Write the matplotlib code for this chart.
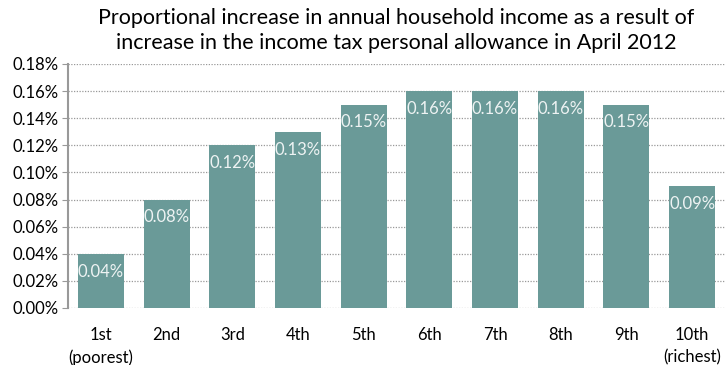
import matplotlib.pyplot as plt
from matplotlib.ticker import FuncFormatter, MultipleLocator

deciles = ["1st\n(poorest)", "2nd", "3rd", "4th", "5th", "6th", "7th", "8th", "9th", "10th\n(richest)"]
increase_pct = [0.04, 0.08, 0.12, 0.13, 0.15, 0.16, 0.16, 0.16, 0.15, 0.09]

bar_color = "#6a9a98"
plt.rcParams['font.family'] = ['Lato', 'DejaVu Sans']

fig = plt.figure(figsize=(7.27, 3.65), dpi=100)
ax = fig.add_axes([68 / 727, 1 - 308 / 365, (725 - 68) / 727, (308 - 64) / 365])

x = range(len(deciles))
bars = ax.bar(x, increase_pct, width=0.7, color=bar_color, zorder=3)
for b, v in zip(bars, increase_pct):
    ax.text(b.get_x() + b.get_width() / 2, v - 0.0072, "%.2f%%" % v,
            ha='center', va='top', color='#eef3f3', fontsize=12, zorder=4)

ax.set_xlim(-0.5, len(deciles) - 0.5)
ax.set_ylim(0, 0.18)
ax.yaxis.set_major_locator(MultipleLocator(0.02))
ax.yaxis.set_major_formatter(FuncFormatter(lambda v, p: "%.2f%%" % v))
ax.set_xticks(list(x))
ax.set_xticklabels(deciles, fontsize=12, linespacing=1.45)
ax.tick_params(axis='x', length=0, pad=14)
ax.tick_params(axis='y', length=4, color='#999999', labelsize=12, pad=3)

ax.grid(axis='y', linestyle=(0, (1, 1.2)), color='#999999', linewidth=0.9, zorder=0)
for side in ['top', 'right', 'bottom']:
    ax.spines[side].set_visible(False)
ax.spines['left'].set_color('#999999')
ax.spines['left'].set_linewidth(1.5)

fig.text(396 / 727, 1 - 8 / 365,
         "Proportional increase in annual household income as a result of\n"
         "increase in the income tax personal allowance in April 2012",
         ha='center', va='top', fontsize=15.5, linespacing=1.3)

fig.savefig("out.png", dpi=100)
